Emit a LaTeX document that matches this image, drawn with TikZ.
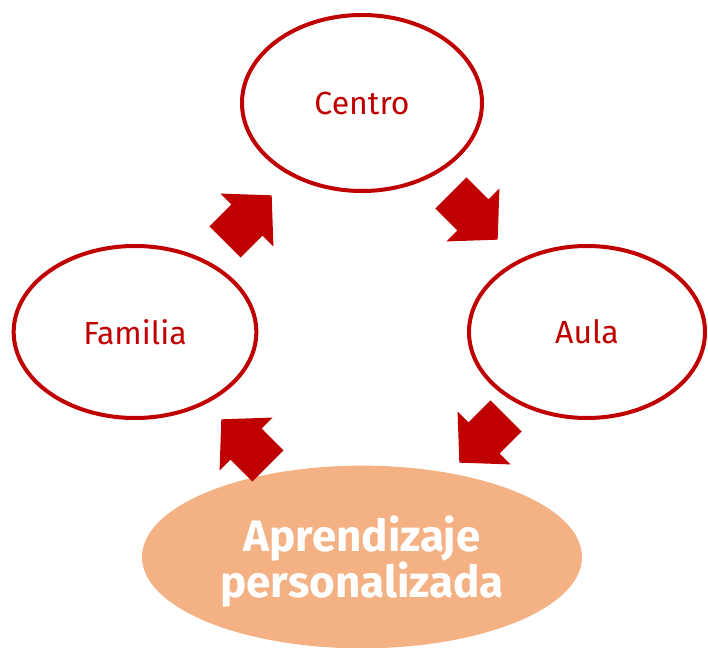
\documentclass[tikz,border=0pt]{standalone}
\usepackage{fontspec}
\setmainfont{Fira Sans}
\usetikzlibrary{shapes.geometric}
\definecolor{dred}{HTML}{C00000}
\definecolor{peach}{HTML}{F4B183}
\begin{document}
\begin{tikzpicture}[x=0.75pt,y=-0.75pt,
  ring/.style={ellipse,draw=dred,line width=3pt,fill=white,inner sep=0pt,text=dred,font=\fontsize{24}{28}\selectfont},
  blockarrow/.pic={\fill[dred] (0,-22) -- (31,-22) -- (31,-37.5) -- (66,0) -- (31,37.5) -- (31,22) -- (0,22) -- cycle;}]
\useasboundingbox (0,0) rectangle (708,648);
\node[ring,minimum width=180pt,minimum height=132pt] (centro) at (362,103) {Centro};
\node[ring,minimum width=182pt,minimum height=129pt] (familia) at (135,332) {Familia};
\node[ring,minimum width=177pt,minimum height=129pt] (aula) at (587,332) {Aula};
\node[ellipse,fill=peach,inner sep=0pt,minimum width=330pt,minimum height=137pt] (apr) at (362,557) {};
\node[text=white,font=\bfseries\fontsize{33}{34.5}\selectfont,align=center] (aprtext) at (362,562) {Aprendizaje\\personalizada};
\pic[rotate=45] at (225,242) {blockarrow};
\pic[rotate=-45] at (451,193) {blockarrow};
\pic[rotate=-135] at (506,416) {blockarrow};
\pic[rotate=135] at (268,466) {blockarrow};
\end{tikzpicture}
\end{document}
